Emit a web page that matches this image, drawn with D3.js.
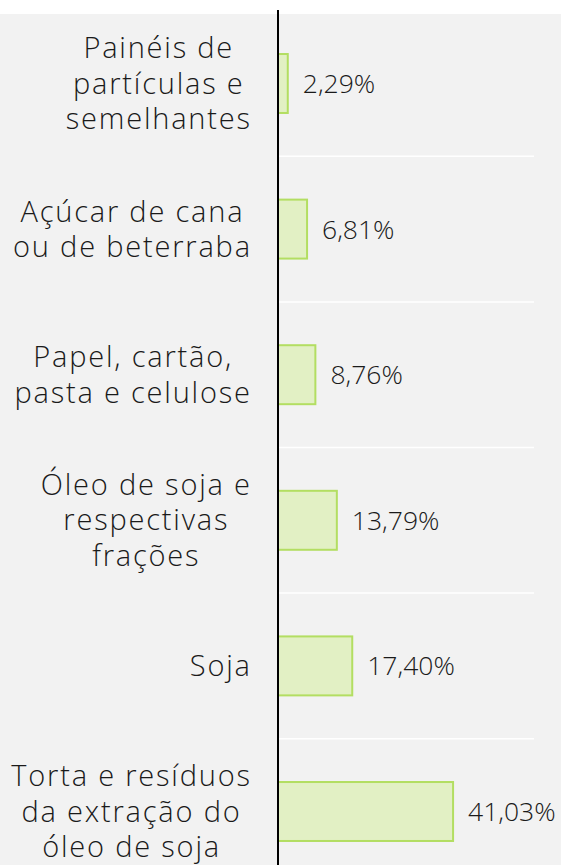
<!DOCTYPE html>
<html>
<head>
<meta charset="utf-8">
<script src="https://cdn.jsdelivr.net/npm/d3@7"></script>
<style>
  body { margin: 0; background: #ffffff; }
  text { font-family: "Open Sans", sans-serif; fill: #1a1a1a; font-weight: 300; }
  text.cat { letter-spacing: 1.8px; }
</style>
</head>
<body>
<script>
// categories (each line of the wrapped label), and the share of each
var categories = [
  ["Painéis de", "partículas e", "semelhantes"],
  ["Açúcar de cana", "ou de beterraba"],
  ["Papel, cartão,", "pasta e celulose"],
  ["Óleo de soja e", "respectivas", "frações"],
  ["Soja"],
  ["Torta e resíduos", "da extração do", "óleo de soja"]
];
var values = [2.29, 6.81, 8.76, 13.79, 17.40, 41.03];
var valueLabels = ["2,29%", "6,81%", "8,76%", "13,79%", "17,40%", "41,03%"];

var width = 561, height = 865;
var axisX = 278, xEnd = 534;
var fontSize = 26.5;
var catSize = 29;

var svg = d3.select("body").append("svg")
  .attr("width", width)
  .attr("height", height);

svg.append("rect")
  .attr("x", 0).attr("y", 14)
  .attr("width", width).attr("height", height - 14)
  .attr("fill", "#f2f2f2");

var xScale = d3.scaleLinear().domain([0, 60]).range([axisX, xEnd]);
var idx = d3.range(categories.length);
var yScale = d3.scaleBand()
  .domain(idx)
  .range([10.7, 10.7 + 6 * 145.6])
  .paddingInner(0.595)
  .paddingOuter(0.2975);
var step = yScale.step();

// white gridlines between the categories
svg.selectAll("line.grid")
  .data(idx.slice(1))
  .enter()
  .append("line")
  .attr("class", "grid")
  .attr("x1", axisX).attr("x2", xEnd)
  .attr("y1", function (i) { return yScale(i) - (step - yScale.bandwidth()) / 2; })
  .attr("y2", function (i) { return yScale(i) - (step - yScale.bandwidth()) / 2; })
  .attr("stroke", "#ffffff")
  .attr("stroke-width", 1.5);

svg.selectAll("rect.bar")
  .data(idx)
  .enter()
  .append("rect")
  .attr("class", "bar")
  .attr("x", axisX)
  .attr("y", function (i) { return yScale(i); })
  .attr("width", function (i) { return xScale(values[i]) - axisX; })
  .attr("height", yScale.bandwidth())
  .attr("fill", "#e2f0c4")
  .attr("stroke", "#b3de62")
  .attr("stroke-width", 2);

svg.selectAll("text.val")
  .data(idx)
  .enter()
  .append("text")
  .attr("class", "val")
  .attr("x", function (i) { return xScale(values[i]) + 15; })
  .attr("y", function (i) { return yScale(i) + yScale.bandwidth() / 2; })
  .attr("dy", "0.36em")
  .style("font-size", fontSize + "px")
  .text(function (i) { return valueLabels[i]; });

// wrapped category labels, centred lines, block right edge at x=250
var lineH = 35.5;
idx.forEach(function (i) {
  var lines = categories[i];
  var cy = yScale(i) + yScale.bandwidth() / 2;
  var g = svg.append("text")
    .attr("class", "cat")
    .attr("text-anchor", "middle")
    .style("font-size", catSize + "px");
  var tspans = lines.map(function (l, k) {
    return g.append("tspan")
      .attr("y", cy + (k - (lines.length - 1) / 2) * lineH)
      .attr("dy", "0.35em")
      .text(l);
  });
  var maxW = d3.max(tspans, function (t) { return t.node().getComputedTextLength(); });
  tspans.forEach(function (t) { t.attr("x", 251.8 - maxW / 2); });
});

svg.append("line")
  .attr("x1", axisX).attr("x2", axisX)
  .attr("y1", 10).attr("y2", height)
  .attr("stroke", "#000000")
  .attr("stroke-width", 2);
</script>
</body>
</html>
